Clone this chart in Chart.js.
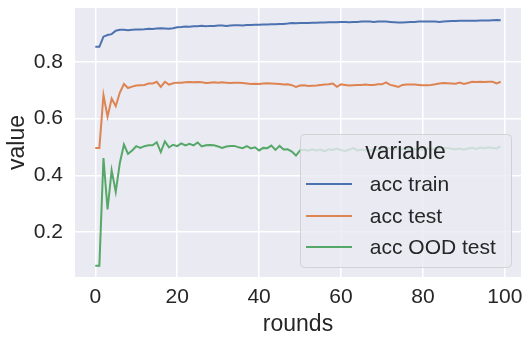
<!DOCTYPE html>
<html lang="en">

<head>
    <meta charset="UTF-8">
    <title>acc per round</title>
    <style>
        body {
            margin: 0;
            background: white;
        }

        .chart-box {
            position: relative;
            width: 530px;
            height: 342px;
        }
    </style>
</head>

<body>
    <div class="chart-box">
        <canvas id="accChart"></canvas>
    </div>

    <script src="https://cdn.jsdelivr.net/npm/chart.js"></script>
    <script>
        // rounds 0..99
        const rounds = [
            0, 1, 2, 3, 4, 5, 6, 7, 8, 9, 10, 11, 12, 13, 14, 15, 16, 17, 18, 19,
            20, 21, 22, 23, 24, 25, 26, 27, 28, 29, 30, 31, 32, 33, 34, 35, 36, 37, 38, 39,
            40, 41, 42, 43, 44, 45, 46, 47, 48, 49, 50, 51, 52, 53, 54, 55, 56, 57, 58, 59,
            60, 61, 62, 63, 64, 65, 66, 67, 68, 69, 70, 71, 72, 73, 74, 75, 76, 77, 78, 79,
            80, 81, 82, 83, 84, 85, 86, 87, 88, 89, 90, 91, 92, 93, 94, 95, 96, 97, 98, 99
        ];

        const accTrain = [
            0.853, 0.853, 0.889, 0.895, 0.898, 0.910, 0.913, 0.913, 0.912, 0.913,
            0.914, 0.914, 0.915, 0.917, 0.916, 0.918, 0.919, 0.918, 0.917, 0.919,
            0.922, 0.923, 0.925, 0.924, 0.926, 0.926, 0.927, 0.926, 0.927, 0.927,
            0.928, 0.928, 0.927, 0.928, 0.929, 0.929, 0.928, 0.930, 0.930, 0.931,
            0.931, 0.932, 0.932, 0.933, 0.933, 0.934, 0.934, 0.935, 0.937, 0.936,
            0.937, 0.937, 0.937, 0.938, 0.938, 0.939, 0.939, 0.940, 0.940, 0.940,
            0.941, 0.941, 0.940, 0.941, 0.941, 0.942, 0.942, 0.942, 0.941, 0.942,
            0.942, 0.942, 0.941, 0.940, 0.939, 0.939, 0.940, 0.941, 0.941, 0.942,
            0.942, 0.942, 0.942, 0.942, 0.941, 0.942, 0.943, 0.944, 0.944, 0.945,
            0.945, 0.945, 0.945, 0.945, 0.946, 0.946, 0.946, 0.947, 0.948, 0.947
        ];

        const accTest = [
            0.497, 0.497, 0.683, 0.607, 0.671, 0.644, 0.692, 0.722, 0.708, 0.713,
            0.717, 0.718, 0.719, 0.724, 0.724, 0.730, 0.712, 0.730, 0.720, 0.725,
            0.727, 0.727, 0.728, 0.729, 0.728, 0.729, 0.728, 0.726, 0.727, 0.728,
            0.727, 0.728, 0.727, 0.726, 0.727, 0.727, 0.726, 0.724, 0.722, 0.723,
            0.722, 0.724, 0.725, 0.724, 0.723, 0.722, 0.720, 0.721, 0.718, 0.712,
            0.717, 0.718, 0.715, 0.716, 0.717, 0.719, 0.720, 0.721, 0.724, 0.712,
            0.721, 0.719, 0.717, 0.718, 0.719, 0.719, 0.720, 0.719, 0.719, 0.721,
            0.721, 0.728, 0.719, 0.716, 0.712, 0.719, 0.720, 0.720, 0.720, 0.719,
            0.718, 0.718, 0.719, 0.721, 0.724, 0.726, 0.725, 0.724, 0.723, 0.727,
            0.722, 0.726, 0.730, 0.729, 0.730, 0.729, 0.730, 0.730, 0.724, 0.730
        ];

        const accOodTest = [
            0.082, 0.082, 0.461, 0.280, 0.418, 0.342, 0.444, 0.509, 0.476, 0.488,
            0.503, 0.497, 0.503, 0.506, 0.506, 0.517, 0.482, 0.520, 0.499, 0.508,
            0.503, 0.513, 0.506, 0.511, 0.506, 0.516, 0.502, 0.506, 0.507, 0.506,
            0.502, 0.497, 0.502, 0.504, 0.504, 0.499, 0.496, 0.503, 0.495, 0.499,
            0.488, 0.497, 0.496, 0.505, 0.490, 0.504, 0.491, 0.492, 0.484, 0.470,
            0.488, 0.490, 0.487, 0.492, 0.488, 0.491, 0.485, 0.492, 0.490, 0.495,
            0.489, 0.486, 0.491, 0.496, 0.488, 0.491, 0.489, 0.487, 0.493, 0.490,
            0.494, 0.498, 0.495, 0.492, 0.496, 0.493, 0.494, 0.491, 0.493, 0.494,
            0.491, 0.495, 0.492, 0.493, 0.495, 0.496, 0.497, 0.494, 0.492, 0.495,
            0.491, 0.495, 0.497, 0.493, 0.498, 0.496, 0.499, 0.497, 0.495, 0.502
        ];

        const seriesNames = [' acc train', ' acc test', ' acc OOD test'];
        const seriesColors = ['#4c72b0', '#dd8452', '#55a868'];
        const xTicks = [0, 20, 40, 60, 80, 100];
        const yTicks = [0.2, 0.4, 0.6, 0.8];

        const FONT = '"Liberation Sans", Arial, sans-serif';
        const TEXT = '#262626';

        const toPoints = (vals) => vals.map((v, i) => ({ x: rounds[i], y: v }));
        const allSeries = [accTrain, accTest, accOodTest];

        // grey background behind the plot, seaborn darkgrid style
        const plotBackground = {
            id: 'plotBackground',
            beforeDraw(chart) {
                const { ctx, chartArea: a } = chart;
                ctx.save();
                ctx.fillStyle = '#eaeaf2';
                ctx.fillRect(a.left, a.top, a.right - a.left, a.bottom - a.top);
                ctx.restore();
            }
        };

        // legend box sitting inside the plot, lower right
        const innerLegend = {
            id: 'innerLegend',
            afterDatasetsDraw(chart) {
                const ctx = chart.ctx;
                const bx = 300, by = 134, bw = 211, bh = 133;
                ctx.save();
                ctx.beginPath();
                ctx.roundRect(bx + 0.5, by + 0.5, bw, bh, 4);
                ctx.fillStyle = 'rgba(234, 234, 242, 0.8)';
                ctx.fill();
                ctx.strokeStyle = 'rgba(204, 204, 204, 0.8)';
                ctx.lineWidth = 1;
                ctx.stroke();

                ctx.fillStyle = TEXT;
                ctx.textBaseline = 'middle';
                ctx.textAlign = 'center';
                ctx.font = '23px ' + FONT;
                ctx.fillText('variable', bx + bw / 2, 153);

                ctx.textAlign = 'left';
                ctx.font = '21px ' + FONT;
                const rows = [184, 216, 247];
                seriesNames.forEach((name, i) => {
                    ctx.strokeStyle = seriesColors[i];
                    ctx.lineWidth = 2;
                    ctx.beginPath();
                    ctx.moveTo(306, rows[i]);
                    ctx.lineTo(352, rows[i]);
                    ctx.stroke();
                    ctx.fillStyle = TEXT;
                    ctx.fillText(name, 364, rows[i] + 1);
                });
                ctx.restore();
            }
        };

        const ctx = document.getElementById('accChart').getContext('2d');

        new Chart(ctx, {
            type: 'line',
            data: {
                datasets: allSeries.map((vals, i) => ({
                    label: seriesNames[i],
                    data: toPoints(vals),
                    borderColor: seriesColors[i],
                    borderWidth: 2,
                    pointRadius: 0,
                    tension: 0,
                    fill: false
                }))
            },
            options: {
                responsive: true,
                maintainAspectRatio: false,
                animation: false,
                layout: {
                    padding: { top: 8, right: 9, left: 0, bottom: 0 }
                },
                plugins: {
                    legend: { display: false },
                    tooltip: { enabled: false }
                },
                scales: {
                    x: {
                        type: 'linear',
                        min: -4.95,
                        max: 103.95,
                        afterBuildTicks: (scale) => {
                            scale.ticks = xTicks.map(v => ({ value: v }));
                        },
                        afterFit: (scale) => {
                            scale.height = 65;
                            scale.paddingLeft = 0;
                            scale.paddingRight = 0;
                        },
                        ticks: {
                            color: TEXT,
                            padding: 8,
                            maxRotation: 0,
                            font: { family: FONT, size: 21 }
                        },
                        grid: {
                            color: '#ffffff',
                            lineWidth: 1.5,
                            drawTicks: false
                        },
                        border: { display: false },
                        title: {
                            display: true,
                            text: 'rounds',
                            color: TEXT,
                            padding: { top: 0, bottom: 4 },
                            font: { family: FONT, size: 23 }
                        }
                    },
                    y: {
                        min: 0.042,
                        max: 0.99,
                        afterBuildTicks: (scale) => {
                            scale.ticks = yTicks.map(v => ({ value: v }));
                        },
                        afterFit: (scale) => {
                            scale.width = 75;
                            scale.paddingTop = 0;
                            scale.paddingBottom = 0;
                        },
                        ticks: {
                            color: TEXT,
                            padding: 12,
                            font: { family: FONT, size: 21 },
                            callback: (value) => value.toFixed(1)
                        },
                        grid: {
                            color: '#ffffff',
                            lineWidth: 1.5,
                            drawTicks: false
                        },
                        border: { display: false },
                        title: {
                            display: true,
                            text: 'value',
                            color: TEXT,
                            padding: { top: 4, bottom: 0 },
                            font: { family: FONT, size: 23 }
                        }
                    }
                }
            },
            plugins: [plotBackground, innerLegend]
        });
    </script>
</body>

</html>
